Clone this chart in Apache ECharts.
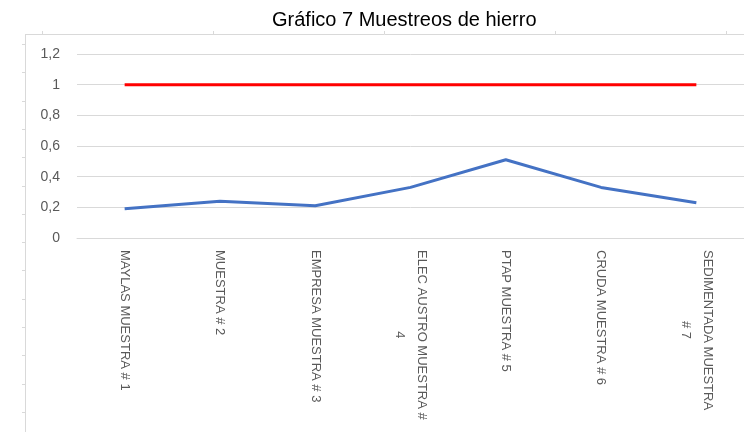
<!DOCTYPE html>
<html>
<head>
<meta charset="utf-8">
<script src="https://cdn.jsdelivr.net/npm/echarts@6/dist/echarts.min.js"></script>
<style>
  html, body { margin: 0; padding: 0; background: #fff; }
  #main { width: 744px; height: 432px; }
</style>
</head>
<body>
<div id="main"></div>
<script>
const categories = [
  "MAYLAS MUESTRA # 1",
  "MUESTRA # 2",
  "EMPRESA MUESTRA # 3",
  "ELEC AUSTRO MUESTRA #\n4",
  "PTAP MUESTRA # 5",
  "CRUDA MUESTRA # 6",
  "SEDIMENTADA MUESTRA\n# 7",
];
const hierro = [0.19, 0.24, 0.21, 0.33, 0.51, 0.33, 0.23];
const limite = [1, 1, 1, 1, 1, 1, 1];

const chart = echarts.init(document.getElementById("main"));
const font = "'Liberation Sans', 'Open Sans', sans-serif";
const frameColor = "#d9d9d9";

// frame of the chart area (cropped screenshot look) with its little ruler ticks
const frame = [
  { type: "line", shape: { x1: 25.5, y1: 34, x2: 25.5, y2: 432 }, style: { stroke: frameColor, lineWidth: 1 } },
  { type: "line", shape: { x1: 25, y1: 34.5, x2: 744, y2: 34.5 }, style: { stroke: frameColor, lineWidth: 1 } },
];
for (let y = 44; y < 432; y += 28.3) {
  frame.push({ type: "line", shape: { x1: 22, y1: Math.round(y) + 0.5, x2: 25, y2: Math.round(y) + 0.5 }, style: { stroke: frameColor, lineWidth: 1 } });
}
for (let x = 42; x < 744; x += 171) {
  frame.push({ type: "line", shape: { x1: Math.round(x) + 0.5, y1: 31, x2: Math.round(x) + 0.5, y2: 34 }, style: { stroke: frameColor, lineWidth: 1 } });
}

const option = {
  animation: false,
  backgroundColor: "#fff",
  title: {
    text: "Gráfico 7 Muestreos de hierro",
    left: 267,
    top: 5,
    textStyle: { fontFamily: font, fontSize: 20, fontWeight: "normal", color: "#000" },
  },
  graphic: frame,
  grid: { left: 77, right: -8, top: 54, bottom: 194 },
  xAxis: {
    type: "category",
    data: categories,
    boundaryGap: true,
    axisLine: { show: true, lineStyle: { color: frameColor } },
    axisTick: { show: false },
    axisLabel: {
      rotate: -90,
      interval: 0,
      margin: 12,
      fontFamily: font,
      fontSize: 13,
      color: "#595959",
      lineHeight: 22,
      formatter: (v) => v.split("\n").map((l) => "{c|" + l + "}").join("\n"),
      rich: {
        c: { align: "center", fontFamily: font, fontSize: 13, color: "#595959", lineHeight: 22 },
      },
    },
  },
  yAxis: {
    type: "value",
    min: 0,
    max: 1.2,
    interval: 0.2,
    axisLine: { show: false },
    axisTick: { show: false },
    splitLine: { lineStyle: { color: frameColor } },
    axisLabel: {
      margin: 17,
      fontFamily: font,
      fontSize: 14,
      color: "#595959",
      formatter: (v) => String(Math.round(v * 10) / 10).replace(".", ","),
    },
  },
  series: [
    {
      name: "Hierro",
      type: "line",
      data: hierro,
      symbol: "none",
      lineStyle: { color: "#4472C4", width: 3 },
      itemStyle: { color: "#4472C4" },
    },
    {
      name: "Límite",
      type: "line",
      data: limite,
      symbol: "none",
      lineStyle: { color: "#FF0000", width: 3 },
      itemStyle: { color: "#FF0000" },
    },
  ],
};

chart.setOption(option);
</script>
</body>
</html>
